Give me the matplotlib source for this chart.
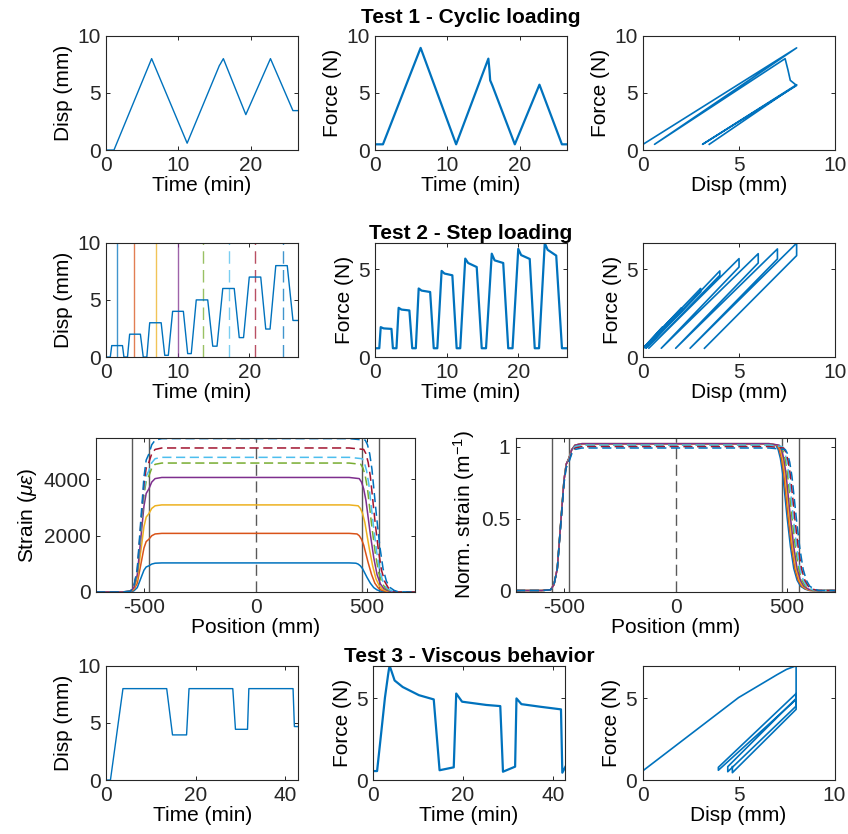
import numpy as np
import matplotlib
matplotlib.use('Agg')
import matplotlib.pyplot as plt

plt.rcParams['font.family'] = ['Liberation Sans', 'DejaVu Sans']
plt.rcParams['font.size'] = 15
plt.rcParams['axes.unicode_minus'] = False
plt.rcParams['mathtext.fontset'] = 'custom'
plt.rcParams['mathtext.rm'] = 'Liberation Sans'
plt.rcParams['mathtext.it'] = 'Liberation Sans:italic'

BLUE = '#0072BD'
COLORS = ['#0072BD', '#D95319', '#EDB120', '#7E2F8E',
          '#77AC30', '#4DBEEE', '#A2142F', '#0072BD']
DARK = '#262626'

# ---- test 1: cyclic loading (breakpoints shared by disp and force)
t1 = [0, 1.1, 6.3, 11.2, 15.65, 15.8, 15.9, 16.2, 19.3, 22.7, 25.8, 26.5]
disp1 = [0, 0, 8.0, 0.6, 7.4, 7.55, 7.67, 8.0, 3.1, 8.0, 3.45, 3.45]
force1 = [0.5, 0.5, 8.94, 0.5, 8.0, 7.0, 6.1, 5.65, 0.5, 5.72, 0.5, 0.5]

# ---- test 2: step loading, one entry per step
step_rise = [0.6, 3.0, 5.7, 8.7, 11.9, 15.5, 19.2, 22.9]
step_top = [0.8, 3.3, 6.1, 9.3, 12.6, 16.3, 20.0, 23.7]
step_end = [2.3, 4.8, 7.7, 10.8, 14.2, 17.9, 21.6, 25.3]
step_low = [2.5, 5.2, 8.2, 11.4, 14.9, 18.6, 22.3, 26.1]
step_disp = [1, 2, 3, 4, 5, 6, 7, 8]
step_back = [0, 0, 0.15, 0.3, 0.95, 1.7, 2.45, 3.2]
step_peak = [1.7, 2.8, 3.9, 4.9, 5.6, 5.88, 6.15, 6.48]
step_mid = [1.63, 2.7, 3.78, 4.75, 5.35, 5.5, 5.8, 6.1]
step_hold = [1.6, 2.65, 3.7, 4.65, 5.12, 5.35, 5.58, 5.77]
t2_end = 26.8
profile_times = [1.48, 3.93, 6.94, 10.1, 13.6, 17.2, 20.8, 24.7]

# ---- strain profiles taken during test 2
pos = [-715, -600, -560, -545, -530, -515, -500, -490, -478, -465, -450, -420,
       0, 420, 450, 460, 470, 480, 490, 500, 515, 530, 545, 560, 580, 600, 715]
shape = [0, 0, 0.005, 0.04, 0.15, 0.45, 0.75, 0.86, 0.90, 0.96, 0.99, 1.0,
         1.0, 1.0, 0.99, 0.96, 0.90, 0.80, 0.65, 0.5, 0.30, 0.15, 0.07, 0.03, 0.01, 0, 0]
strain_level = [1030, 2077, 3086, 4059, 4570, 4772, 5104, 5436]
norm_level = [1.02, 1.02, 1.02, 1.02, 1.01, 1.01, 1.0, 0.99]
right_shift = [0, 5, 10, 15, 22, 28, 35, 42]
marks = [-555, -478, 478, 555]

# ---- test 3: viscous behaviour
t3 = [0, 0.9, 1.78, 2.65, 3.0, 3.35, 3.53, 3.7, 4.8, 6.6, 10.2, 13.5, 14.8, 17.95,
      18.5, 19.8, 25.2, 28.3, 28.9, 31.6, 31.9, 33.0, 37.2, 41.8, 42.1, 42.8]
disp3 = [0, 0, 2.5, 5.0, 6.0, 7.0, 7.5, 8.0, 8.0, 8.0, 8.0, 8.0, 3.95, 3.95,
         8.0, 8.0, 8.0, 8.0, 4.44, 4.44, 8.0, 8.0, 8.0, 8.0, 4.68, 4.68]
force3 = [0.55, 0.55, 2.8, 5.05, 5.75, 6.45, 6.78, 7.0, 6.1, 5.7, 5.2, 4.94, 0.6, 0.78,
          5.3, 4.8, 4.6, 4.53, 0.51, 0.82, 5.0, 4.65, 4.49, 4.33, 0.45, 0.82]

# build test 2 series from the step table
t2, disp2, force2 = [0], [0], [0.5]
prev = 0
for k in range(8):
    t2 += [step_rise[k], step_top[k], step_top[k] + 0.4, step_end[k], step_low[k]]
    disp2 += [prev, step_disp[k], step_disp[k], step_disp[k], step_back[k]]
    force2 += [0.5, step_peak[k], step_mid[k], step_hold[k], 0.5]
    prev = step_back[k]
t2.append(t2_end)
disp2.append(prev)
force2.append(0.5)


def style(ax, xlim, ylim, xticks, yticks, xlabel, ylabel, yticklabels=None):
    ax.set_xlim(xlim)
    ax.set_ylim(ylim)
    ax.set_xticks(xticks)
    ax.set_yticks(yticks)
    if yticklabels is not None:
        ax.set_yticklabels(yticklabels)
    ax.set_xlabel(xlabel, labelpad=1)
    ax.set_ylabel(ylabel, labelpad=3)
    ax.tick_params(direction='in', top=True, right=True, length=3, width=0.7,
                   colors=DARK, labelsize=15, pad=4)
    for s in ax.spines.values():
        s.set_color(DARK)
        s.set_linewidth(0.8)


fig = plt.figure(figsize=(8.48, 8.34), dpi=100)
cols = [0.125, 0.4422, 0.7583]
w = 0.2264
rows = [0.8201, 0.5719, 0.0647]
h = 0.137
vdash = (0, (9, 4.5))
sdash = (0, (6, 3))

# row 1
ax = fig.add_axes([cols[0], rows[0], w, h])
ax.plot(t1, disp1, color=BLUE, lw=1.0)
style(ax, (0, 26.5), (0, 10), [0, 10, 20], [0, 5, 10], 'Time (min)', 'Disp (mm)')
ax = fig.add_axes([cols[1], rows[0], w, h])
ax.plot(t1, force1, color=BLUE, lw=1.6)
style(ax, (0, 26.5), (0, 10), [0, 10, 20], [0, 5, 10], 'Time (min)', 'Force (N)')
ax.set_title('Test 1 - Cyclic loading', fontweight='bold', fontsize=15, pad=9)
ax = fig.add_axes([cols[2], rows[0], w, h])
ax.plot(disp1, force1, color=BLUE, lw=1.2)
style(ax, (0, 10), (0, 10), [0, 5, 10], [0, 5, 10], 'Disp (mm)', 'Force (N)')

# row 2
ax = fig.add_axes([cols[0], rows[1], w, h])
for k, tp in enumerate(profile_times):
    ls = '-' if k < 4 else vdash
    ax.axvline(tp, color=COLORS[k], lw=1.0, ls=ls, alpha=0.75)
ax.plot(t2, disp2, color=BLUE, lw=1.0)
style(ax, (0, t2_end), (0, 10), [0, 10, 20], [0, 5, 10], 'Time (min)', 'Disp (mm)')
ax = fig.add_axes([cols[1], rows[1], w, h])
ax.plot(t2, force2, color=BLUE, lw=1.6)
style(ax, (0, t2_end), (0, 6.5), [0, 10, 20], [0, 5], 'Time (min)', 'Force (N)')
ax.set_title('Test 2 - Step loading', fontweight='bold', fontsize=15, pad=3)
ax = fig.add_axes([cols[2], rows[1], w, h])
ax.plot(disp2, force2, color=BLUE, lw=1.2)
style(ax, (0, 10), (0, 6.5), [0, 5, 10], [0, 5], 'Disp (mm)', 'Force (N)')

# row 3: strain profiles
pos_a = np.array(pos, dtype=float)
shape_a = np.array(shape)
axL = fig.add_axes([0.1132, 0.2902, 0.3762, 0.1847])
axR = fig.add_axes([0.6085, 0.2902, 0.3762, 0.1847])
for a in (axL, axR):
    for m in marks:
        a.axvline(m, color='0.35', lw=1.0)
    a.axvline(0, color='0.35', lw=1.0, ls=(0, (8, 4)))
for k in range(8):
    p = np.where(pos_a > 440, np.minimum(pos_a + right_shift[k], 715), pos_a)
    ls = '-' if k < 4 else sdash
    axL.plot(p, shape_a * strain_level[k], color=COLORS[k], lw=1.1, ls=ls)
    axR.plot(p, shape_a * norm_level[k], color=COLORS[k], lw=1.1, ls=ls)
style(axL, (-715, 715), (0, 5460), [-500, 0, 500], [0, 2000, 4000],
      'Position (mm)', r'Strain ($\mu\epsilon$)')
style(axR, (-715, 715), (-0.01, 1.06), [-500, 0, 500], [0, 0.5, 1],
      'Position (mm)', 'Norm. strain (m$^{-1}$)', ['0', '0.5', '1'])

# row 4
ax = fig.add_axes([0.1255, rows[2], w, h])
ax.plot(t3, disp3, color=BLUE, lw=1.0)
style(ax, (0, 43), (0, 10), [0, 20, 40], [0, 5, 10], 'Time (min)', 'Disp (mm)')
ax = fig.add_axes([0.4399, rows[2], w, h])
ax.plot(t3, force3, color=BLUE, lw=1.6)
style(ax, (0, 42.7), (0, 7), [0, 20, 40], [0, 5], 'Time (min)', 'Force (N)')
ax.set_title('Test 3 - Viscous behavior', fontweight='bold', fontsize=15, pad=3)
ax = fig.add_axes([0.7577, rows[2], w, h])
ax.plot(disp3, force3, color=BLUE, lw=1.2)
style(ax, (0, 10), (0, 7), [0, 5, 10], [0, 5], 'Disp (mm)', 'Force (N)')

fig.savefig('out.png', dpi=100)
